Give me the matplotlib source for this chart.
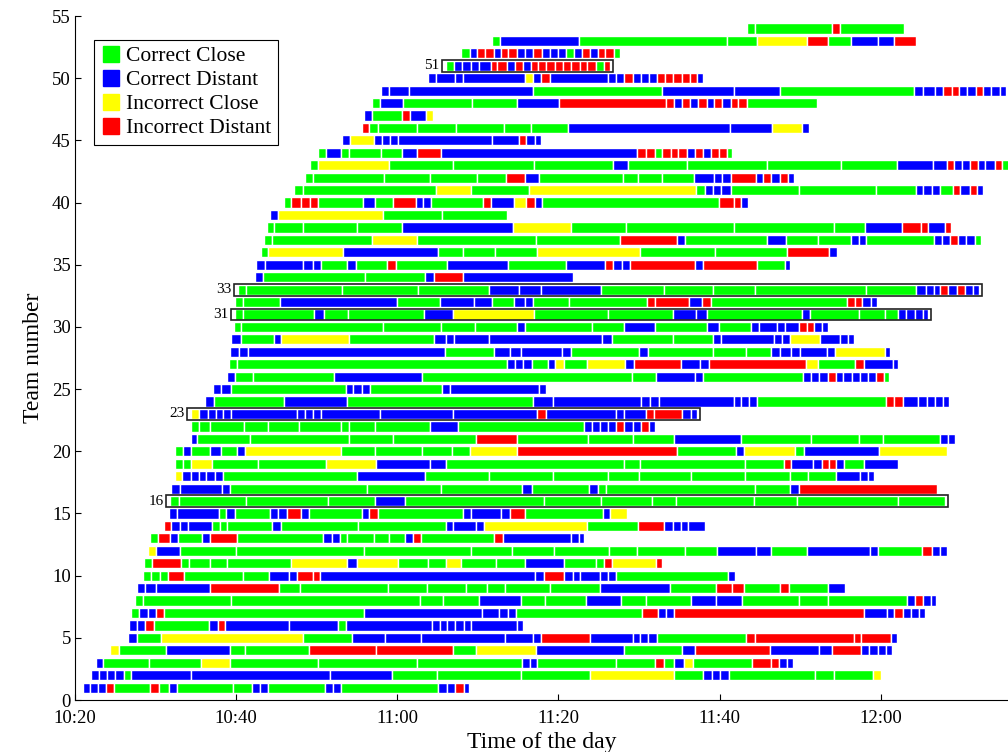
import matplotlib
matplotlib.use('Agg')
from matplotlib import pyplot as plt
from matplotlib.lines import Line2D
from matplotlib.patches import Rectangle

# G = correct close, B = correct distant, Y = incorrect close, R = incorrect distant
# team_edges: segment boundaries, minutes after 10:20
team_colors = [
    "BBBRGRGBGGBBGBBGBBRB", "BBBBGBBBGGGYGBBBGGGY", "BGGYGGGBBGGRGBYGRRBB",
    "YGBGGRRGYBGBRBBRBBBB", "BGYGBBBBBRBBBBGRRRRB", "BBRGBRBBGBBBBBBBB",
    "GBBRGBBBBGRBBRBBRBBB", "GGGGGBGGBGGBBGGGBRBB", "BBBRGGGGGGGGBGRRGRGB",
    "GGGRGGBBRRBBRBBBBBGB", "GRGGGGYBYGGYGGBGGRYR", "YBGGGGGGGGGBBGBBGRBB",
    "GRBGBRGBBGGGGBRGRBBB", "RBBBGGGBGGBBBYGRBBBB", "BBGBGBBRBGBRGBBBRGBY",
    "GGGGBGGGGGGGG", "BBBGGGBGBGGGBR", "YBBBBBGBGGGGGGGGGBBB",
    "GGYGGYBBGGGGRBBRRBGB", "GBGBGBYGGGGYRGBYGBY", "BGGGGRGGGBGGGGBB",
    "GGGGGGGGGBGBBBBRBBRB", "YBBBBBBBBBBBRBBBRRBB", "BGBGBBBBBBBBGRRBBBBB",
    "BBGBBBGBBB", "BGGBGGBBGBBBRBBBBBRG", "GGBBBGBYGYBRBBRYGRBB",
    "BBBGBBBBGBGGGBBBBBYB", "BGBYGBBBBBGGBBBBYBBB", "GGGGGBGGBGBGBBBBRRBB",
    "GGBGGBYGGBBGBGGGBBBB", "GGBGBBGBBGGRRBRGRRBB", "GGGGBBBGGGGGBBBRBRBB",
    "BGGBRB", "BBBBGBGRGBGBRBBRBRGB", "GYBGGGYGGRB",
    "GGYGGRBGBGGBBGBBRBBG", "GGGGBYGGGGBRRBR", "BYGG",
    "GRRRGBGRBBGRBYRBGRRB", "GGYGYGBBBGGGBBBGRBRB", "GGGGGRBGGGGBBBRBRBRB",
    "GYGGGBGGGGBBRBBRBBRG", "GBGGGBRBRRGRRRBRBRRG", "BYBBBBBRBB",
    "RGGGGGGBBYB", "BGRBY", "GBGGBRRBRBRBRBRRG",
    "BBBGBBGBBBRRBBRBBB", "BBBBYBRBBBRBBBRRRRRB", "GBBBBRRBRBRRRRRRRRGR",
    "GBRRBRRBBRBBBGBRBRRG", "GBGGYRGBBR", "GGRG",
]

team_edges = [
    [1.0, 1.9, 2.9, 3.9, 4.9, 9.3, 10.4, 11.7, 12.7, 19.6, 22.0, 23.0, 24.0, 31.0, 32.0, 33.0, 45.1, 46.2, 47.2, 48.3, 48.9],
    [2.0, 3.0, 4.0, 5.0, 6.1, 7.0, 14.4, 31.7, 39.4, 44.9, 55.3, 63.9, 74.3, 77.9, 79.0, 80.0, 81.2, 91.9, 94.2, 99.1, 100.0],
    [2.6, 3.5, 9.2, 15.6, 19.2, 30.1, 42.5, 55.5, 56.5, 57.4, 67.2, 72.0, 73.1, 74.3, 75.6, 76.7, 84.0, 86.4, 87.4, 88.4, 89.1],
    [4.3, 5.5, 11.3, 19.2, 21.1, 29.0, 37.4, 46.9, 49.8, 57.2, 68.2, 75.3, 76.9, 86.2, 92.4, 94.0, 97.6, 98.6, 99.7, 100.6, 101.4],
    [6.6, 7.7, 10.7, 28.3, 34.4, 38.5, 43.0, 53.4, 56.9, 57.8, 63.9, 69.2, 70.1, 71.1, 72.2, 83.3, 84.4, 96.7, 97.6, 101.3, 102.0],
    [6.7, 7.7, 8.7, 9.8, 16.6, 17.7, 18.6, 26.6, 32.6, 33.6, 44.3, 45.3, 46.2, 47.2, 48.3, 49.2, 54.9, 55.6],
    [7.0, 8.0, 9.0, 10.0, 11.0, 35.9, 50.5, 52.6, 53.8, 54.7, 70.4, 72.3, 73.3, 74.4, 97.9, 100.8, 101.7, 102.8, 103.7, 104.7, 105.5],
    [7.5, 8.4, 19.4, 42.8, 45.7, 50.1, 55.3, 58.3, 63.4, 67.8, 70.9, 76.4, 79.5, 82.8, 89.8, 93.4, 103.3, 104.2, 105.2, 106.3, 106.9],
    [7.7, 8.7, 10.0, 16.7, 25.3, 27.9, 38.8, 43.7, 48.5, 51.1, 53.4, 58.9, 65.1, 73.8, 79.5, 81.5, 83.0, 87.5, 88.6, 93.5, 95.6],
    [8.5, 9.4, 10.6, 11.5, 13.5, 20.9, 24.1, 26.5, 27.6, 29.5, 30.4, 57.1, 58.2, 60.7, 61.8, 62.7, 65.1, 66.2, 67.1, 81.1, 81.9],
    [8.6, 9.5, 13.2, 14.2, 16.8, 18.9, 26.8, 33.7, 35.0, 40.1, 43.8, 46.0, 47.9, 52.3, 55.8, 60.7, 64.7, 65.6, 66.7, 72.1, 72.8],
    [9.1, 10.1, 13.0, 20.0, 35.9, 49.2, 54.3, 59.5, 66.3, 69.7, 75.7, 79.7, 84.5, 86.4, 90.9, 98.7, 99.7, 105.1, 106.4, 107.4, 108.2],
    [9.3, 10.3, 11.8, 12.8, 15.8, 16.8, 20.1, 30.8, 31.9, 32.9, 33.8, 37.1, 39.0, 40.9, 41.9, 42.9, 52.0, 53.1, 61.5, 62.5, 63.2],
    [11.0, 11.9, 13.0, 14.0, 17.0, 18.0, 18.9, 24.5, 25.6, 35.1, 46.0, 46.9, 49.8, 50.8, 63.5, 69.9, 73.1, 74.2, 75.2, 76.1, 78.2],
    [11.7, 12.6, 17.9, 18.8, 19.9, 24.2, 25.2, 26.3, 28.0, 29.0, 35.6, 36.5, 37.6, 48.1, 49.2, 52.9, 54.0, 55.9, 65.5, 66.4, 68.5],
    [11.8, 12.9, 21.2, 31.4, 37.2, 40.9, 58.2, 65.3, 71.6, 74.6, 84.3, 89.6, 102.2, 108.0],
    [11.9, 13.0, 18.3, 19.2, 36.2, 45.4, 55.5, 56.7, 63.8, 64.9, 65.9, 84.4, 88.8, 89.8, 107.0],
    [12.4, 13.3, 14.4, 15.4, 16.3, 17.4, 18.4, 35.0, 43.5, 51.4, 59.3, 66.2, 70.0, 76.5, 83.2, 88.8, 91.0, 94.4, 97.4, 98.4, 99.2],
    [12.4, 13.4, 14.4, 17.0, 22.7, 31.1, 37.3, 44.1, 46.1, 68.2, 70.1, 83.2, 88.0, 88.9, 91.6, 92.7, 93.6, 94.5, 95.5, 97.9, 102.2],
    [12.4, 13.4, 14.4, 16.8, 18.1, 20.1, 21.1, 33.0, 37.2, 43.1, 46.8, 49.0, 54.9, 74.7, 82.1, 83.0, 89.4, 90.5, 99.8, 108.2],
    [14.4, 15.1, 21.7, 34.0, 39.5, 49.8, 54.9, 63.7, 69.3, 74.4, 82.7, 91.4, 97.3, 100.3, 107.4, 108.4, 109.2],
    [14.4, 15.4, 16.7, 21.0, 23.9, 27.8, 33.0, 34.0, 37.2, 44.0, 47.5, 63.2, 64.2, 65.2, 66.2, 67.1, 68.1, 69.2, 70.2, 71.3, 72.0],
    [14.4, 15.4, 16.5, 17.5, 18.4, 19.4, 27.5, 28.5, 29.5, 30.5, 37.8, 46.9, 57.4, 58.4, 67.2, 68.2, 70.9, 71.9, 75.4, 76.5, 77.2],
    [16.1, 17.2, 25.9, 33.7, 56.8, 59.3, 70.2, 71.4, 72.5, 81.8, 82.6, 83.7, 84.7, 100.7, 101.7, 102.8, 104.6, 105.7, 106.7, 107.7, 108.5],
    [17.1, 18.1, 19.4, 33.6, 34.5, 35.6, 36.6, 45.5, 46.5, 57.6, 58.4],
    [18.9, 19.8, 22.1, 32.1, 43.1, 69.1, 72.1, 76.9, 77.9, 90.4, 91.4, 92.4, 93.4, 94.4, 95.3, 96.5, 97.4, 98.4, 99.4, 100.4, 101.0],
    [19.1, 20.1, 53.6, 54.6, 55.6, 56.7, 58.7, 59.6, 60.7, 63.6, 68.3, 69.4, 75.2, 77.6, 78.7, 90.7, 92.2, 96.8, 97.9, 101.5, 102.2],
    [19.2, 20.3, 21.5, 45.9, 52.0, 54.0, 55.3, 60.5, 61.5, 70.0, 71.1, 79.2, 83.3, 86.4, 87.5, 88.9, 90.0, 93.3, 94.3, 100.5, 101.2],
    [19.4, 20.6, 24.7, 25.6, 34.0, 44.6, 46.0, 47.1, 51.4, 65.4, 66.7, 74.2, 79.2, 80.2, 86.7, 87.7, 88.8, 92.5, 94.9, 95.9, 96.7],
    [19.7, 20.6, 38.2, 45.4, 49.7, 54.9, 55.9, 64.2, 68.2, 72.0, 78.5, 79.9, 83.9, 84.9, 87.1, 88.1, 89.8, 90.8, 91.7, 92.7, 93.5],
    [19.9, 20.9, 29.7, 30.9, 33.9, 43.3, 46.9, 57.0, 66.1, 74.2, 77.1, 78.5, 90.2, 91.2, 97.3, 100.5, 102.2, 103.2, 104.2, 105.2, 105.9],
    [19.9, 20.9, 25.4, 40.0, 45.3, 49.5, 51.7, 54.5, 55.9, 56.9, 61.3, 71.0, 72.0, 76.2, 77.8, 78.9, 95.8, 96.8, 97.7, 98.8, 99.5],
    [20.2, 21.2, 33.1, 42.6, 51.4, 55.1, 57.8, 65.3, 73.1, 79.2, 84.4, 98.2, 104.4, 105.6, 106.6, 107.4, 108.4, 109.5, 110.5, 111.5, 112.2],
    [22.3, 23.3, 36.0, 43.5, 44.5, 48.1, 61.8],
    [22.5, 23.6, 28.3, 29.5, 30.5, 33.7, 34.9, 38.7, 39.9, 46.2, 53.7, 60.9, 65.8, 66.8, 67.9, 68.9, 76.9, 77.9, 84.7, 88.1, 88.8],
    [23.1, 24.0, 33.3, 45.0, 48.1, 52.1, 57.4, 70.1, 79.4, 88.4, 93.6, 94.6],
    [23.4, 24.5, 36.9, 42.4, 57.2, 67.7, 74.7, 75.7, 85.9, 88.3, 92.2, 96.3, 97.3, 98.2, 106.6, 107.6, 108.6, 109.6, 110.6, 111.7, 112.4],
    [23.8, 24.7, 28.3, 35.0, 40.6, 54.4, 61.6, 68.4, 81.8, 94.2, 98.0, 102.6, 105.0, 105.9, 108.0, 108.7],
    [24.2, 25.2, 38.2, 45.5, 53.6],
    [25.9, 26.8, 28.1, 29.2, 30.2, 35.8, 37.2, 39.5, 42.3, 43.2, 44.2, 50.7, 51.6, 54.5, 56.0, 57.1, 58.0, 79.9, 81.8, 82.7, 83.5],
    [27.2, 28.3, 44.8, 49.2, 56.3, 77.1, 78.2, 79.2, 80.2, 81.4, 89.8, 99.4, 104.4, 105.3, 106.4, 107.3, 109.0, 109.9, 111.1, 112.0, 112.7],
    [28.5, 29.5, 38.3, 44.1, 49.9, 53.5, 55.8, 57.6, 68.0, 69.9, 72.8, 76.8, 79.3, 80.3, 81.4, 84.5, 85.4, 86.4, 87.5, 88.5, 89.3],
    [29.2, 30.2, 39.0, 46.9, 57.0, 66.8, 68.6, 76.0, 85.9, 95.1, 102.0, 106.5, 108.2, 109.1, 110.1, 111.1, 112.1, 113.0, 114.2, 115.1, 116.0],
    [30.2, 31.1, 33.0, 34.0, 38.0, 40.6, 42.4, 45.4, 69.8, 70.9, 72.0, 72.9, 74.0, 74.9, 76.0, 76.9, 77.9, 78.9, 79.9, 80.9, 81.6],
    [33.2, 34.1, 37.1, 38.1, 39.1, 40.1, 51.7, 55.1, 56.0, 57.1, 57.8],
    [35.6, 36.5, 37.6, 42.5, 47.3, 53.3, 56.6, 61.2, 81.3, 86.5, 90.2, 91.1],
    [35.9, 36.9, 40.6, 41.6, 43.6, 44.4],
    [36.9, 37.8, 40.7, 49.3, 54.9, 60.1, 73.3, 74.4, 75.4, 76.3, 77.3, 78.4, 79.3, 80.3, 81.4, 82.3, 83.4, 92.1],
    [38.0, 39.0, 41.4, 56.9, 72.9, 81.8, 87.5, 104.1, 105.2, 106.7, 107.7, 108.8, 109.7, 110.7, 111.8, 112.7, 113.7, 114.8, 115.5],
    [43.8, 44.8, 47.2, 48.1, 55.9, 56.9, 57.9, 58.9, 66.2, 67.2, 68.2, 69.2, 70.2, 71.2, 72.2, 73.2, 74.2, 75.3, 76.3, 77.2, 77.9],
    [46.0, 47.0, 48.0, 49.1, 50.1, 51.6, 52.4, 53.6, 54.6, 55.6, 56.6, 57.5, 58.5, 59.6, 60.6, 61.6, 62.7, 63.6, 64.7, 65.6, 66.4],
    [47.9, 49.0, 49.9, 50.9, 52.0, 52.9, 53.8, 54.9, 55.8, 56.9, 58.0, 58.9, 60.0, 60.9, 61.9, 62.9, 63.9, 64.9, 65.8, 66.9, 67.6],
    [51.7, 52.8, 62.5, 80.9, 84.7, 90.8, 93.4, 96.3, 99.7, 101.7, 104.4],
    [83.4, 84.4, 94.0, 95.0, 102.9],
]

boxed_teams = [16, 23, 31, 33, 51]

category_names = ['Correct Close', 'Correct Distant', 'Incorrect Close', 'Incorrect Distant']
category_codes = ['G', 'B', 'Y', 'R']
colors_picker = {'G': '#00ff00', 'B': '#0000ff', 'Y': '#ffff00', 'R': '#ff0000'}

tick_minutes = [0, 20, 40, 60, 80, 100]
tick_labels = ['10:20', '10:40', '11:00', '11:20', '11:40', '12:00']

plt.rcParams['font.family'] = ['Liberation Serif', 'DejaVu Serif']

fig = plt.figure(figsize=(10.08, 7.52), dpi=100)
ax = fig.add_axes([0.0744, 0.0691, 0.9256, 0.9096])

# 画每个队伍的分段
for idx, (codes, edges) in enumerate(zip(team_colors, team_edges)):
    team = idx + 1
    lefts = edges[:-1]
    widths = [b - a for a, b in zip(edges[:-1], edges[1:])]
    cols = [colors_picker[c] for c in codes]
    ax.barh([team] * len(lefts), widths, left=lefts, height=0.82, color=cols,
            edgecolor='white', linewidth=1.0)

# 标出的队伍
for team in boxed_teams:
    edges = team_edges[team - 1]
    x0 = edges[0] - 0.5
    x1 = edges[-1] + 0.4
    ax.add_patch(Rectangle((x0, team - 0.48), x1 - x0, 0.96, fill=False,
                           edgecolor='#222222', linewidth=1.2, zorder=3))
    ax.text(x0 - 0.3, team, str(team), ha='right', va='center', fontsize=11)

ax.set_xlim(0, 115.8)
ax.set_ylim(0, 55)
ax.set_xticks(tick_minutes)
ax.set_xticklabels(tick_labels)
ax.set_yticks(range(0, 56, 5))
ax.tick_params(direction='in', length=4, labelsize=13.5, width=0.8)
ax.tick_params(axis='x', pad=7)
ax.tick_params(axis='y', pad=3)
ax.spines['top'].set_visible(False)
ax.spines['right'].set_visible(False)
ax.set_xlabel('Time of the day', fontsize=17, labelpad=4)
ax.set_ylabel('Team number', fontsize=17, labelpad=6)

handles = [Line2D([], [], marker='s', linestyle='none', markersize=11,
                  markerfacecolor=colors_picker[c], markeredgecolor=colors_picker[c])
           for c in category_codes]
leg = ax.legend(handles, category_names, loc='upper left', bbox_to_anchor=(0.0204, 0.965),
                borderaxespad=0, fontsize=15.5, fancybox=False, framealpha=1,
                edgecolor='black', handletextpad=0.2, labelspacing=0.18,
                borderpad=0.3, handlelength=1.0)
leg.get_frame().set_linewidth(0.8)

fig.savefig('out.png', dpi=100)
